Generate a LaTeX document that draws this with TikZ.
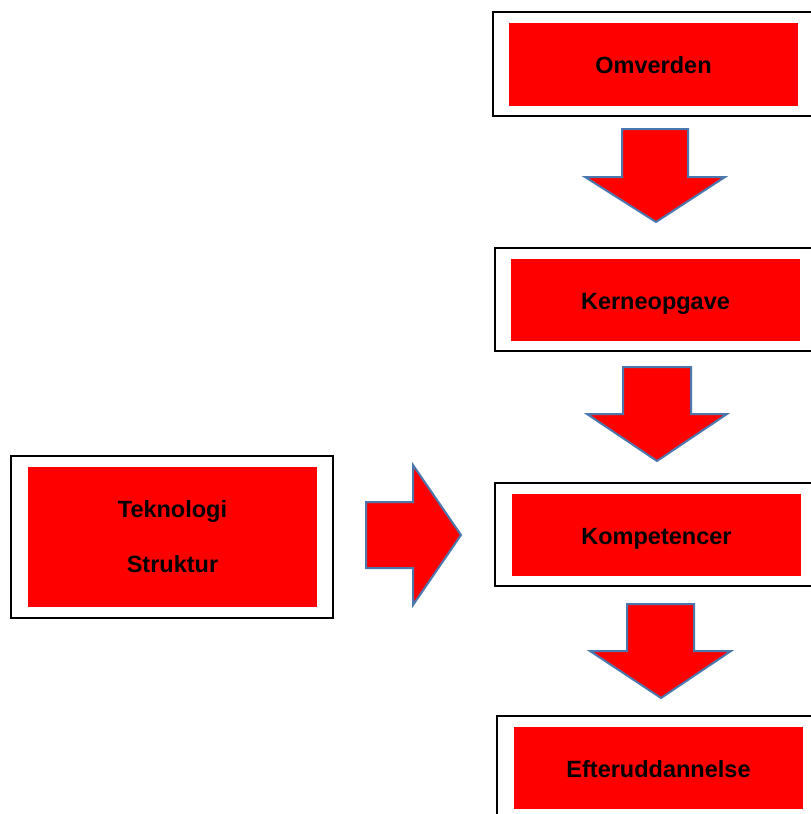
\documentclass[tikz,border=0pt]{standalone}
\usepackage{fontspec}
\setmainfont{Liberation Sans}
\usepackage{tikz}
\tikzset{ramme/.style = {draw, line width = 2, inner sep = 0, outer sep = 0},
  felt/.style = {fill = red, inner sep = 0, outer sep = 0, minimum width = 289, minimum height = 82,
    align = center, font = \fontsize{23.5}{28}\selectfont\bfseries},
  enkelt/.style = {felt, text height = 19, text depth = 1},
  pil/.style = {fill = red, draw = pilblaa, line width = 2, line join = miter}}
\definecolor{pilblaa}{HTML}{4A78AE}

\begin{document}
\begin{tikzpicture}[x = 1pt, y = -1pt]
    \useasboundingbox (0, 0) rectangle (811, 814);
    \clip (0, 0) rectangle (811, 814);

    \node [ramme, minimum width = 320, minimum height = 104] (omverdenramme) at (653, 64) {};
    \node [enkelt, minimum height = 83] (omverden) at (653.5, 64.5) {Omverden};
    \node [ramme, minimum width = 321, minimum height = 103] (kerneramme) at (655.5, 299.5) {};
    \node [enkelt] (kerneopgave) at (655.5, 300) {Kerneopgave};
    \node [ramme, minimum width = 322, minimum height = 103] (kompetenceramme) at (656, 534.5) {};
    \node [enkelt] (kompetencer) at (656.5, 535) {Kompetencer};
    \node [ramme, minimum width = 322, minimum height = 104] (efterramme) at (658, 768) {};
    \node [enkelt] (efteruddannelse) at (658.5, 768) {Efteruddannelse};
    \node [ramme, minimum width = 322, minimum height = 162] (teknologiramme) at (172, 537) {};
    \node [felt, minimum height = 140] (teknologi) at (172.5, 537) {Teknologi\\[27pt]Struktur};

    \draw [pil] (622, 129) -- (688, 129) -- (688, 177) -- (725, 177) -- (656, 222) -- (585, 177) -- (622, 177) -- cycle;
    \draw [pil] (623, 367) -- (691, 367) -- (691, 414) -- (727, 414) -- (657, 461) -- (587, 414) -- (623, 414) -- cycle;
    \draw [pil] (627, 604) -- (694, 604) -- (694, 651) -- (731, 651) -- (661, 698) -- (590, 651) -- (627, 651) -- cycle;
    \draw [pil] (366, 502) -- (413, 502) -- (413, 465) -- (461, 535) -- (413, 605) -- (413, 568) -- (366, 568) -- cycle;
  \end{tikzpicture}
\end{document}
